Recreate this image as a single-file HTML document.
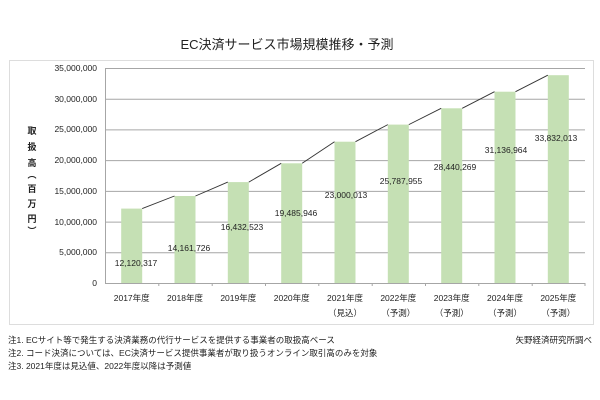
<!DOCTYPE html>
<html><head><meta charset="utf-8"><style>
body{margin:0;background:#fff;}
svg{display:block;font-family:"Liberation Sans","Noto Sans CJK JP",sans-serif;}
</style></head><body>
<svg width="600" height="400" viewBox="0 0 600 400">
<text x="287" y="49" font-size="13" text-anchor="middle" fill="#222">EC決済サービス市場規模推移・予測</text>
<rect x="9.5" y="60.5" width="584" height="264" fill="#fff" stroke="#ddd"/>
<g stroke="#a6a6a6" stroke-width="1">
<line x1="105" y1="68.5" x2="585" y2="68.5"/>
<line x1="105" y1="99.2" x2="585" y2="99.2"/>
<line x1="105" y1="129.9" x2="585" y2="129.9"/>
<line x1="105" y1="160.6" x2="585" y2="160.6"/>
<line x1="105" y1="191.4" x2="585" y2="191.4"/>
<line x1="105" y1="222.1" x2="585" y2="222.1"/>
<line x1="105" y1="252.8" x2="585" y2="252.8"/>
<line x1="105" y1="283.5" x2="585" y2="283.5"/>
<line x1="105.5" y1="68" x2="105.5" y2="284"/>
<line x1="158.8" y1="283" x2="158.8" y2="286"/>
<line x1="212.2" y1="283" x2="212.2" y2="286"/>
<line x1="265.5" y1="283" x2="265.5" y2="286"/>
<line x1="318.8" y1="283" x2="318.8" y2="286"/>
<line x1="372.2" y1="283" x2="372.2" y2="286"/>
<line x1="425.5" y1="283" x2="425.5" y2="286"/>
<line x1="478.8" y1="283" x2="478.8" y2="286"/>
<line x1="532.2" y1="283" x2="532.2" y2="286"/>
<line x1="585" y1="283" x2="585" y2="286"/>
</g>
<g font-size="8.5" fill="#222" text-anchor="end">
<text x="97" y="71">35,000,000</text><text x="97" y="102">30,000,000</text><text x="97" y="132">25,000,000</text><text x="97" y="163">20,000,000</text><text x="97" y="194">15,000,000</text><text x="97" y="225">10,000,000</text><text x="97" y="255">5,000,000</text><text x="97" y="286">0</text>
</g>
<g font-size="9" fill="#222" text-anchor="middle" font-weight="bold">
<text x="32" y="134">取</text><text x="32" y="150">扱</text><text x="32" y="166">高</text><text x="32" y="178">︵</text><text x="32" y="192">百</text><text x="32" y="207">万</text><text x="32" y="222">円</text><text x="32" y="234">︶</text>
</g>
<g fill="#c5e0b4">
<rect x="121.2" y="208.6" width="21" height="74.4"/>
<rect x="174.5" y="196" width="21" height="87"/>
<rect x="227.8" y="182.1" width="21" height="100.9"/>
<rect x="281.2" y="163.3" width="21" height="119.7"/>
<rect x="334.5" y="141.7" width="21" height="141.3"/>
<rect x="387.8" y="124.6" width="21" height="158.4"/>
<rect x="441.2" y="108.3" width="21" height="174.7"/>
<rect x="494.5" y="91.7" width="21" height="191.3"/>
<rect x="547.8" y="75.2" width="21" height="207.8"/>
</g>
<g stroke="#333" stroke-width="0.9">
<line x1="142.2" y1="208.6" x2="174.5" y2="196"/>
<line x1="195.5" y1="196" x2="227.8" y2="182.1"/>
<line x1="248.8" y1="182.1" x2="281.2" y2="163.3"/>
<line x1="302.2" y1="163.3" x2="334.5" y2="141.7"/>
<line x1="355.5" y1="141.7" x2="387.8" y2="124.6"/>
<line x1="408.8" y1="124.6" x2="441.2" y2="108.3"/>
<line x1="462.2" y1="108.3" x2="494.5" y2="91.7"/>
<line x1="515.5" y1="91.7" x2="547.8" y2="75.2"/>
</g>
<g font-size="8.5" fill="#222" text-anchor="middle">
<text x="136" y="266">12,120,317</text>
<text x="189" y="251">14,161,726</text>
<text x="242" y="230">16,432,523</text>
<text x="296" y="216">19,485,946</text>
<text x="346" y="198">23,000,013</text>
<text x="401" y="184">25,787,955</text>
<text x="455" y="170">28,440,269</text>
<text x="506" y="153">31,136,964</text>
<text x="556" y="141">33,832,013</text>
</g>
<g font-size="8.5" fill="#222" text-anchor="middle">
<text x="131.7" y="301">2017年度</text>
<text x="185" y="301">2018年度</text>
<text x="238.3" y="301">2019年度</text>
<text x="291.7" y="301">2020年度</text>
<text x="345" y="301">2021年度</text>
<text x="398.3" y="301">2022年度</text>
<text x="451.7" y="301">2023年度</text>
<text x="505" y="301">2024年度</text>
<text x="558.3" y="301">2025年度</text>
<text x="345" y="316">（見込）</text>
<text x="398.3" y="316">（予測）</text>
<text x="451.7" y="316">（予測）</text>
<text x="505" y="316">（予測）</text>
<text x="558.3" y="316">（予測）</text>
</g>
<g font-size="8.5" fill="#222">
<text x="8" y="343">注1. ECサイト等で発生する決済業務の代行サービスを提供する事業者の取扱高ベース</text>
<text x="8" y="356">注2. コード決済については、EC決済サービス提供事業者が取り扱うオンライン取引高のみを対象</text>
<text x="8" y="369">注3. 2021年度は見込値、2022年度以降は予測値</text>
<text x="592" y="343" text-anchor="end">矢野経済研究所調べ</text>
</g>
</svg>
</body></html>
